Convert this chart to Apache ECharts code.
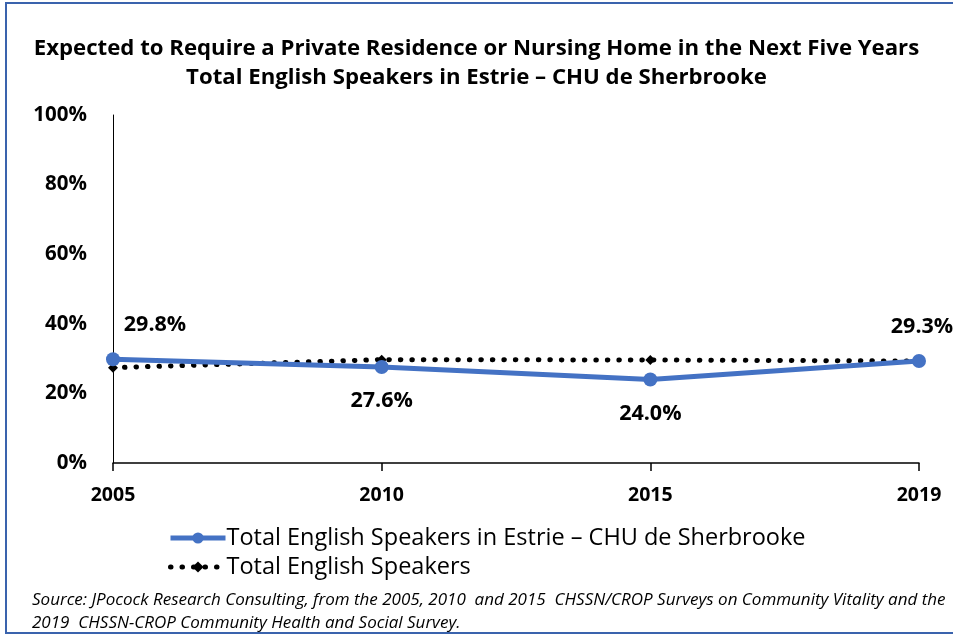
<!DOCTYPE html>
<html>
<head>
<meta charset="utf-8">
<style>
  html, body { margin: 0; padding: 0; background: #fff; }
  #chart { width: 953px; height: 638px; }
</style>
<script src="https://cdn.jsdelivr.net/npm/echarts@6/dist/echarts.min.js"></script>
</head>
<body>
<div id="chart"></div>
<script>
// Survey years on the horizontal axis
const years = ['2005', '2010', '2015', '2019'];
// Share expecting to need a private residence or nursing home (%)
const estrieValues = [29.8, 27.6, 24.0, 29.3];
const totalValues = [27.4, 29.7, 29.6, 29.3];
// Y axis ticks (%)
const yTicks = [0, 20, 40, 60, 80, 100];

const seriesNames = ['Total English Speakers in Estrie – CHU de Sherbrooke', 'Total English Speakers'];
const titleLines = [
  'Expected to Require a Private Residence or Nursing Home in the Next Five Years',
  'Total English Speakers in Estrie – CHU de Sherbrooke'
];
const sourceLines = [
  'Source: JPocock Research Consulting, from the 2005, 2010  and 2015  CHSSN/CROP Surveys on Community Vitality and the',
  '2019  CHSSN-CROP Community Health and Social Survey.'
];

const FONT = '"Open Sans", "Noto Sans", sans-serif';
const BLUE = '#4472C4';

const blueLine = { color: BLUE, width: 5 };
const dottedLine = { color: '#000', width: 5, type: [0.5, 11], cap: 'round' };

// label placement for each Estrie point: above for the ends, below in the middle
const labelPlacement = [
  { position: 'top', offset: [42, -2] },
  { position: 'bottom', offset: [0, 2] },
  { position: 'bottom', offset: [0, 2] },
  { position: 'top', offset: [3, -2] }
];

const estrieData = estrieValues.map((v, i) => ({
  value: v,
  label: Object.assign({
    show: true,
    formatter: (p) => p.value.toFixed(1) + '%',
    fontFamily: FONT,
    fontWeight: 'bold',
    fontSize: 21.5,
    color: '#000',
    distance: 14
  }, labelPlacement[i])
}));

const chart = echarts.init(document.getElementById('chart'), null, { renderer: 'canvas' });

chart.setOption({
  backgroundColor: '#fff',
  animation: false,
  title: {
    text: titleLines.join('\n'),
    left: 'center',
    top: 29,
    textStyle: {
      fontFamily: FONT,
      fontWeight: 'bold',
      fontSize: 22.2,
      lineHeight: 29,
      color: '#000'
    }
  },
  grid: { left: 113, right: 34, top: 115, bottom: 175 },
  legend: {
    orient: 'vertical',
    left: 163,
    top: 521,
    itemWidth: 55,
    itemHeight: 14,
    itemGap: 5,
    data: [
      { name: seriesNames[0], lineStyle: blueLine },
      { name: seriesNames[1], lineStyle: dottedLine }
    ],
    textStyle: { fontFamily: FONT, fontSize: 23.5, color: '#000', padding: [0, 0, 0, -4] }
  },
  xAxis: {
    type: 'category',
    data: years,
    boundaryGap: false,
    axisLine: { lineStyle: { color: '#000', width: 1.5 } },
    axisTick: { show: true, length: 8, alignWithLabel: true, lineStyle: { color: '#000', width: 1.5 } },
    axisLabel: {
      fontFamily: FONT, fontWeight: 'bold', fontSize: 19.5, color: '#000', margin: 22
    },
    splitLine: { show: false }
  },
  yAxis: {
    type: 'value',
    min: yTicks[0],
    max: yTicks[yTicks.length - 1],
    interval: yTicks[1] - yTicks[0],
    axisLine: { show: true, lineStyle: { color: '#000', width: 1 } },
    axisTick: { show: false },
    splitLine: { show: false },
    axisLabel: {
      formatter: '{value}%',
      fontFamily: FONT, fontWeight: 'bold', fontSize: 20.5, color: '#000', margin: 26
    }
  },
  series: [
    {
      name: seriesNames[1],
      type: 'line',
      data: totalValues,
      z: 2,
      symbol: 'diamond',
      symbolSize: 10,
      itemStyle: { color: '#000' },
      lineStyle: dottedLine
    },
    {
      name: seriesNames[0],
      type: 'line',
      data: estrieData,
      z: 3,
      symbol: 'circle',
      symbolSize: 14,
      itemStyle: { color: BLUE },
      lineStyle: blueLine
    }
  ],
  graphic: [
    {
      type: 'rect',
      shape: { x: 6, y: 3, width: 980, height: 630 },
      style: { fill: null, stroke: '#3A63AD', lineWidth: 2 },
      silent: true
    },
    {
      type: 'text',
      left: 32,
      top: 589,
      style: {
        text: sourceLines.join('\n'),
        fontFamily: FONT,
        fontStyle: 'italic',
        fontSize: 17,
        lineHeight: 23,
        fill: '#000'
      }
    }
  ]
});
</script>
</body>
</html>
